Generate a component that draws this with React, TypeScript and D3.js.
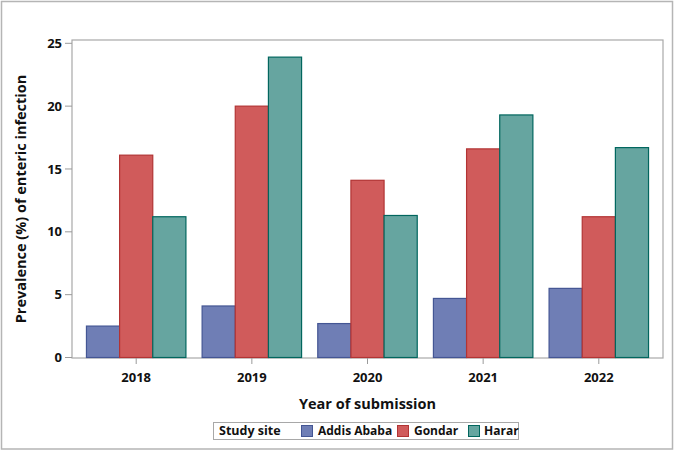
import React from "react";
import * as d3 from "d3";

// Prevalence of enteric infection by year of submission and study site
const years = ["2018", "2019", "2020", "2021", "2022"];
const sites = ["Addis Ababa", "Gondar", "Harar"];
const addisAbaba = [2.5, 4.1, 2.7, 4.7, 5.5];
const gondar = [16.1, 20.0, 14.1, 16.6, 11.2];
const harar = [11.2, 23.9, 11.3, 19.3, 16.7];
const yTicks = [0, 5, 10, 15, 20, 25];

const seriesValues = [addisAbaba, gondar, harar];
const fills = ["#6F7EB5", "#D05B5B", "#66A5A0"];
const strokes = ["#445694", "#B23434", "#01665E"];

const W = 675;
const H = 451;
const plot = { left: 72, right: 663, top: 40, bottom: 358 };
const FONT = "'Open Sans', 'DejaVu Sans', sans-serif";

export default function App() {
  const x = d3
    .scaleBand<string>()
    .domain(years)
    .range([plot.left, plot.right])
    .paddingInner(0)
    .paddingOuter(0.055);
  const groupWidth = x.bandwidth() * 0.86;
  const xInner = d3
    .scaleBand<string>()
    .domain(sites)
    .range([0, groupWidth])
    .padding(0);
  const y = d3.scaleLinear().domain([0, 25]).range([357.5, 43.3]);
  const yTop = y.invert(plot.top);
  const yScale = y.copy().domain([0, yTop]).range([357.5, plot.top]);

  const legendItems = [
    { x: 301.5, tx: 318 },
    { x: 397.5, tx: 414 },
    { x: 468.5, tx: 484 },
  ];

  return (
    <svg
      width={W}
      height={H}
      style={{ position: "absolute", left: 0, top: 0, background: "#fff" }}
      fontFamily={FONT}
    >
      {/* outer frame */}
      <rect x={1.5} y={1.5} width={671} height={447.5} fill="#fff" stroke="#b5b5b5" strokeWidth={1.5} />

      {/* plot frame */}
      <rect
        x={plot.left}
        y={plot.top}
        width={plot.right - plot.left}
        height={plot.bottom - plot.top}
        fill="#fff"
        stroke="#a8a8a8"
        strokeWidth={1.2}
      />

      {/* bars */}
      {years.map((yr, i) => {
        const gx = (x(yr) as number) + (x.bandwidth() - groupWidth) / 2;
        return (
          <g key={yr}>
            {sites.map((s, j) => {
              const v = seriesValues[j][i];
              const bx = gx + (xInner(s) as number);
              return (
                <rect
                  key={s}
                  x={bx}
                  y={yScale(v)}
                  width={xInner.bandwidth()}
                  height={yScale(0) - yScale(v)}
                  fill={fills[j]}
                  stroke={strokes[j]}
                  strokeWidth={1.2}
                />
              );
            })}
          </g>
        );
      })}

      {/* y axis ticks and labels */}
      {yTicks.map((t) => (
        <g key={t}>
          <line x1={plot.left - 7} x2={plot.left} y1={yScale(t)} y2={yScale(t)} stroke="#9a9a9a" strokeWidth={1} />
          <text
            x={plot.left - 10}
            y={yScale(t)}
            dy="0.35em"
            textAnchor="end"
            fontSize={13}
            fontWeight="bold"
            fill="#111"
          >
            {t}
          </text>
        </g>
      ))}

      {/* x axis ticks and labels */}
      {years.map((yr) => {
        const cx = (x(yr) as number) + x.bandwidth() / 2;
        return (
          <g key={yr}>
            <line x1={cx} x2={cx} y1={plot.bottom} y2={plot.bottom + 6} stroke="#9a9a9a" strokeWidth={1} />
            <text x={cx} y={377} dy="0.35em" textAnchor="middle" fontSize={13} fontWeight="bold" fill="#111">
              {yr}
            </text>
          </g>
        );
      })}

      {/* axis titles */}
      <text
        x={(plot.left + plot.right) / 2}
        y={404}
        dy="0.35em"
        textAnchor="middle"
        fontSize={14.5}
        fontWeight="bold"
        fill="#111"
      >
        Year of submission
      </text>
      <text
        transform={`translate(21, ${(plot.top + plot.bottom) / 2}) rotate(-90)`}
        dy="0.35em"
        textAnchor="middle"
        fontSize={14.5}
        fontWeight="bold"
        fill="#111"
      >
        Prevalence (%) of enteric infection
      </text>

      {/* legend */}
      <rect x={213.5} y={422.5} width={305} height={17} fill="#fff" stroke="#a8a8a8" strokeWidth={1} />
      <text x={219} y={431} dy="0.35em" fontSize={12.5} fontWeight="bold" fill="#111">
        Study site
      </text>
      {sites.map((s, j) => (
        <g key={s}>
          <rect
            x={legendItems[j].x}
            y={425.5}
            width={11}
            height={11}
            fill={fills[j]}
            stroke={strokes[j]}
            strokeWidth={1}
          />
          <text x={legendItems[j].tx} y={431} dy="0.35em" fontSize={12} fontWeight="bold" fill="#111">
            {s}
          </text>
        </g>
      ))}
    </svg>
  );
}
